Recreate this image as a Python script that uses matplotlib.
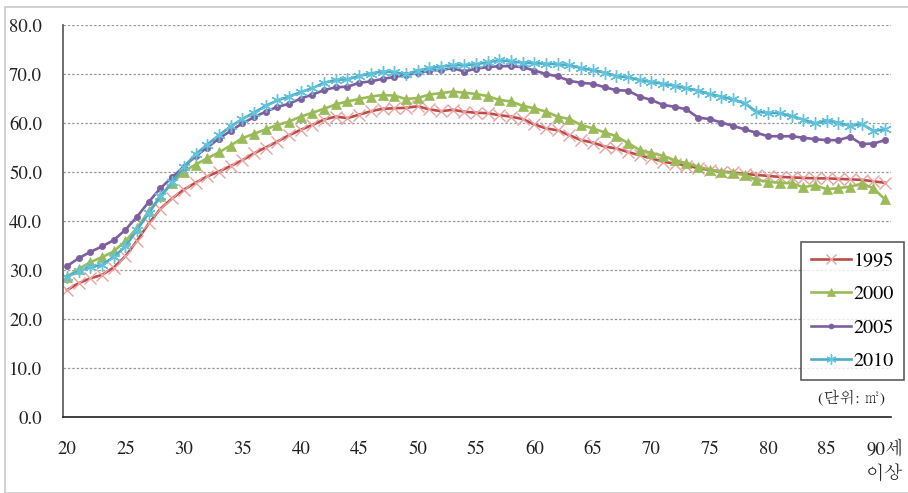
import matplotlib
matplotlib.use("Agg")
import matplotlib.pyplot as plt
from matplotlib.patches import Rectangle

ages = list(range(20, 91))

v1995 = [25.9, 27.3, 28.3, 29.0, 30.5, 32.8, 36.0, 39.5, 42.5, 44.6,
         46.4, 47.8, 49.1, 50.1, 51.2, 52.4, 53.8, 55.0, 56.2, 57.5,
         58.6, 59.6, 60.7, 61.3, 61.0, 61.7, 62.4, 62.9, 63.0, 63.1,
         63.4, 62.8, 62.4, 62.7, 62.3, 62.1, 62.0, 61.6, 61.3, 60.8,
         59.7, 58.9, 58.5, 57.5, 56.5, 56.0, 55.2, 54.8, 54.1, 53.4,
         52.8, 52.1, 51.7, 51.3, 50.8, 50.4, 50.1, 49.9, 49.6, 49.4,
         49.2, 49.0, 48.9, 48.8, 48.7, 48.7, 48.6, 48.5, 48.4, 48.1, 47.8]

v2000 = [28.6, 30.2, 31.6, 32.6, 33.8, 35.9, 38.6, 42.0, 45.0, 47.7,
         50.1, 51.5, 52.8, 54.0, 55.4, 56.9, 57.8, 58.7, 59.6, 60.3,
         61.3, 62.1, 62.9, 63.8, 64.4, 64.9, 65.4, 65.7, 65.6, 64.9,
         65.1, 65.8, 66.1, 66.4, 66.2, 65.9, 65.5, 64.7, 64.4, 63.5,
         63.0, 62.3, 61.3, 60.8, 59.6, 58.9, 58.1, 57.3, 55.9, 54.5,
         53.9, 53.3, 52.4, 51.8, 51.1, 50.5, 50.1, 49.7, 49.4, 48.4,
         48.0, 47.8, 47.7, 46.9, 47.3, 46.5, 46.7, 47.0, 47.6, 46.7, 44.4]

v2005 = [30.8, 32.4, 33.7, 34.8, 36.1, 38.2, 40.9, 43.9, 46.7, 48.9,
         51.1, 53.2, 55.0, 56.8, 58.4, 59.9, 61.2, 62.3, 63.3, 63.9,
         65.0, 65.8, 66.7, 67.3, 67.4, 68.2, 68.5, 69.0, 69.4, 69.8,
         70.2, 70.7, 70.8, 71.2, 70.5, 71.1, 71.4, 71.6, 71.6, 71.4,
         70.7, 70.0, 69.5, 68.6, 68.2, 68.0, 67.3, 66.7, 66.6, 65.4,
         64.7, 63.7, 63.3, 62.8, 61.1, 60.8, 60.1, 59.4, 58.7, 58.0,
         57.3, 57.3, 57.3, 57.0, 56.7, 56.5, 56.5, 57.2, 55.7, 55.8, 56.5]

v2010 = [28.6, 29.7, 30.7, 31.0, 32.7, 34.8, 38.2, 41.6, 45.0, 48.0,
         51.0, 53.6, 55.6, 57.5, 59.3, 60.8, 62.1, 63.5, 64.6, 65.4,
         66.3, 67.1, 68.2, 68.8, 68.9, 69.6, 70.1, 70.5, 70.4, 69.9,
         70.7, 71.2, 71.5, 71.8, 71.8, 72.0, 72.4, 72.8, 72.6, 72.3,
         72.2, 72.1, 72.0, 71.8, 71.2, 70.8, 70.3, 69.6, 69.3, 68.8,
         68.4, 68.0, 67.6, 67.1, 66.6, 65.9, 65.4, 64.8, 64.0, 62.3,
         62.1, 62.0, 61.4, 60.7, 59.9, 60.5, 60.1, 59.4, 59.8, 58.4, 58.7]

series_labels = ["1995", "2000", "2005", "2010"]
xtick_vals = [20, 25, 30, 35, 40, 45, 50, 55, 60, 65, 70, 75, 80, 85, 90]
xtick_labels = ["20", "25", "30", "35", "40", "45", "50", "55", "60", "65",
                "70", "75", "80", "85", "90세\n이상"]
ytick_vals = [0, 10, 20, 30, 40, 50, 60, 70, 80]
unit_text = "(단위: ㎡)"

FAM = ["STIXGeneral", "Batang", "Noto Sans CJK KR", "DejaVu Sans"]
plt.rcParams["font.family"] = FAM

W, H = 908, 493
fig = plt.figure(figsize=(W / 100, H / 100), dpi=100)
fig.patches.append(Rectangle((5 / W, 0), 1.0, 1 - 7 / H, transform=fig.transFigure,
                             fill=False, edgecolor="#c8c8c8", lw=1.2))
ax = fig.add_axes([63 / W, 1 - 417 / H, (891 - 63) / W, (417 - 25) / H])

styles = [
    dict(color="#BE4B48", marker="x", ms=8.5, mew=1.0, mec="#E8A2A0"),
    dict(color="#9BBB59", marker="^", ms=7, mew=0.5, mec="#9BBB59", mfc="#9BBB59"),
    dict(color="#7D5FA0", marker="o", ms=4.5, mew=0.5, mec="#7D5FA0", mfc="#7D5FA0"),
    dict(color="#4BACC6", marker=(6, 2, 0), ms=9, mew=1.0, mec="#63C3DC"),
]
for vals, lab, st in zip([v1995, v2000, v2005, v2010], series_labels, styles):
    ax.plot(ages, vals, lw=1.9, label=lab, **st)

ax.set_xlim(19.66, 90.51)
ax.set_ylim(0, 80)
ax.set_yticks(ytick_vals)
ax.set_yticklabels([f"{v:.1f}" for v in ytick_vals])
ax.set_xticks(xtick_vals)
ax.set_xticklabels(xtick_labels, linespacing=1.5, va="top")
ax.yaxis.grid(True, linestyle=(0, (2, 1.5)), color="#9a9a9a", lw=0.9)
ax.set_axisbelow(True)
for s in ["top", "right"]:
    ax.spines[s].set_visible(False)
ax.spines["left"].set_color("#555555")
ax.spines["left"].set_linewidth(1.2)
ax.spines["bottom"].set_color("#222222")
ax.spines["bottom"].set_linewidth(1.2)
ax.tick_params(axis="both", length=0, labelsize=13.5, colors="#222222")
ax.tick_params(axis="y", pad=15)
ax.tick_params(axis="x", pad=17)

leg = ax.legend(loc="upper left", bbox_to_anchor=(801 / W, 1 - 242 / H),
                bbox_transform=fig.transFigure, borderaxespad=0, frameon=True,
                fancybox=False, fontsize=14.5, handlelength=2.0, handletextpad=0.1,
                labelspacing=0.75, borderpad=0.5, markerscale=0.8)
leg.get_frame().set_edgecolor("#333333")
leg.get_frame().set_linewidth(1.2)

fig.text(885 / W, 1 - 398 / H, unit_text, ha="right", va="center", fontsize=11.5,
         color="#222222")

fig.savefig("out.png", dpi=100)
